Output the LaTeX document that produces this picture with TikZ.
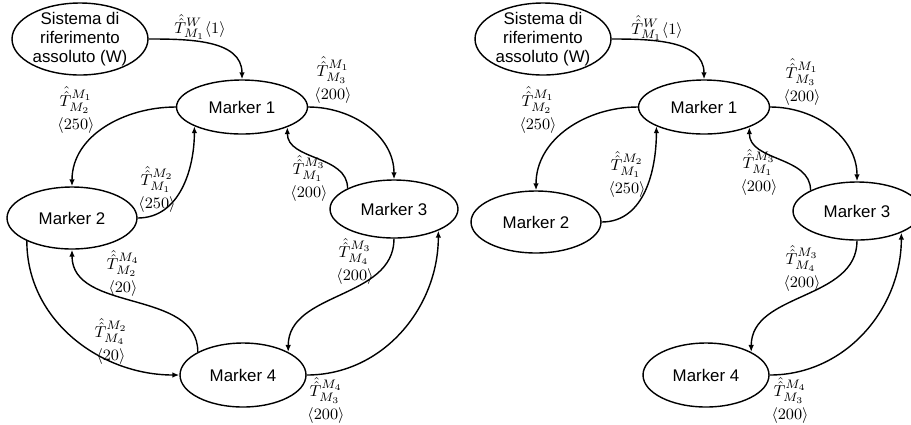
\documentclass[tikz,border=0pt]{standalone}
\usepackage{amsmath, amssymb}
\usepackage{fontspec}
\setsansfont{Liberation Sans}
\usetikzlibrary{positioning,arrows.meta,shapes.geometric}
\tikzset{
  flowarrow/.style={-{Latex[length=1.4mm, width=1.1mm]}, thick},
  marker/.style={draw, ellipse, thick, inner sep=0pt, minimum width=2.6cm, minimum height=1.16cm, align=center, font=\sffamily\fontsize{9.6}{11}\selectfont},
  worldbox/.style={marker, inner ysep=-3pt, minimum width=2.72cm, minimum height=1.44cm},
  translabel/.style={font=\fontsize{9.4}{11}\selectfont, align=center, inner sep=0pt}
}

\begin{document}
\begin{tikzpicture}[x=0.02cm, y=-0.02cm, >=Latex]
  \useasboundingbox (0,0) rectangle (911,424);
  \clip (0,0) rectangle (911,424);
  % left: all markers
  \node[worldbox] (wl) at (80,39) {Sistema di\\riferimento\\assoluto (W)};
  \node[marker, minimum width=2.62cm, minimum height=1.08cm] (m1l) at (242,107) {Marker 1};
  \node[marker, minimum height=1.24cm] (m2l) at (72,218) {Marker 2};
  \node[marker, minimum width=2.56cm] (m3l) at (394,209) {Marker 3};
  \node[marker, minimum width=2.52cm, minimum height=1.28cm] (m4l) at (243,375) {Marker 4};
  \draw[flowarrow] (wl.east) to[out=0, in=90] (m1l.north);
  \draw[flowarrow] (m1l.west) to[out=180, in=90] (m2l.north);
  \draw[flowarrow] (m2l.east) to[out=0, in=270] (m1l.202);
  \draw[flowarrow] (m1l.east) to[out=0, in=90] (m3l.north);
  \draw[flowarrow] (m3l.156) to[out=90, in=270] (m1l.336);
  \draw[flowarrow] (m3l.south) to[out=270, in=90] (m4l.27);
  \draw[flowarrow] (m4l.east) to[out=0, in=270] (m3l.334);
  \draw[flowarrow] (m4l.153) to[out=90, in=270] (m2l.south);
  \draw[flowarrow] (m2l.207) to[out=270, in=180] (m4l.west);
  \node[translabel] (lwl) at (200,27) {$\hat{\hat{T}}^{W}_{M_1}\langle 1\rangle$};
  \node[translabel] (l12l) at (76,110) {$\hat{\hat{T}}^{M_1}_{M_2}$\\[1pt]$\langle 250\rangle$};
  \node[translabel] (l21l) at (157,189) {$\hat{\hat{T}}^{M_2}_{M_1}$\\[1pt]$\langle 250\rangle$};
  \node[translabel] (l13l) at (333,80) {$\hat{\hat{T}}^{M_1}_{M_3}$\\[1pt]$\langle 200\rangle$};
  \node[translabel] (l31l) at (309,178) {$\hat{\hat{T}}^{M_3}_{M_1}$\\[1pt]$\langle 200\rangle$};
  \node[translabel] (l34l) at (355,261) {$\hat{\hat{T}}^{M_3}_{M_4}$\\[1pt]$\langle 200\rangle$};
  \node[translabel] (l43l) at (326,400) {$\hat{\hat{T}}^{M_4}_{M_3}$\\[1pt]$\langle 200\rangle$};
  \node[translabel] (l42l) at (123,273) {$\hat{\hat{T}}^{M_4}_{M_2}$\\[1pt]$\langle 20\rangle$};
  \node[translabel] (l24l) at (111,341) {$\hat{\hat{T}}^{M_2}_{M_4}$\\[1pt]$\langle 20\rangle$};
  % right: without the 2-4 links
  \node[worldbox] (wr) at (543,39) {Sistema di\\riferimento\\assoluto (W)};
  \node[marker, minimum width=2.62cm, minimum height=1.08cm] (m1r) at (704,107) {Marker 1};
  \node[marker, minimum height=1.24cm] (m2r) at (536,222) {Marker 2};
  \node[marker, minimum width=2.56cm] (m3r) at (857,211) {Marker 3};
  \node[marker, minimum width=2.52cm, minimum height=1.28cm] (m4r) at (706,375) {Marker 4};
  \draw[flowarrow] (wr.east) to[out=0, in=90] (m1r.north);
  \draw[flowarrow] (m1r.west) to[out=180, in=90] (m2r.north);
  \draw[flowarrow] (m2r.east) to[out=0, in=270] (m1r.202);
  \draw[flowarrow] (m1r.east) to[out=0, in=90] (m3r.north);
  \draw[flowarrow] (m3r.156) to[out=90, in=270] (m1r.336);
  \draw[flowarrow] (m3r.south) to[out=270, in=90] (m4r.27);
  \draw[flowarrow] (m4r.east) to[out=0, in=270] (m3r.334);
  \node[translabel] (lwr) at (657,28) {$\hat{\hat{T}}^{W}_{M_1}\langle 1\rangle$};
  \node[translabel] (l12r) at (538,110) {$\hat{\hat{T}}^{M_1}_{M_2}$\\[1pt]$\langle 250\rangle$};
  \node[translabel] (l21r) at (627,174) {$\hat{\hat{T}}^{M_2}_{M_1}$\\[1pt]$\langle 250\rangle$};
  \node[translabel] (l13r) at (802,82) {$\hat{\hat{T}}^{M_1}_{M_3}$\\[1pt]$\langle 200\rangle$};
  \node[translabel] (l31r) at (759,172) {$\hat{\hat{T}}^{M_3}_{M_1}$\\[1pt]$\langle 200\rangle$};
  \node[translabel] (l34r) at (802,268) {$\hat{\hat{T}}^{M_3}_{M_4}$\\[1pt]$\langle 200\rangle$};
  \node[translabel] (l43r) at (790,400) {$\hat{\hat{T}}^{M_4}_{M_3}$\\[1pt]$\langle 200\rangle$};
\end{tikzpicture}
\end{document}
